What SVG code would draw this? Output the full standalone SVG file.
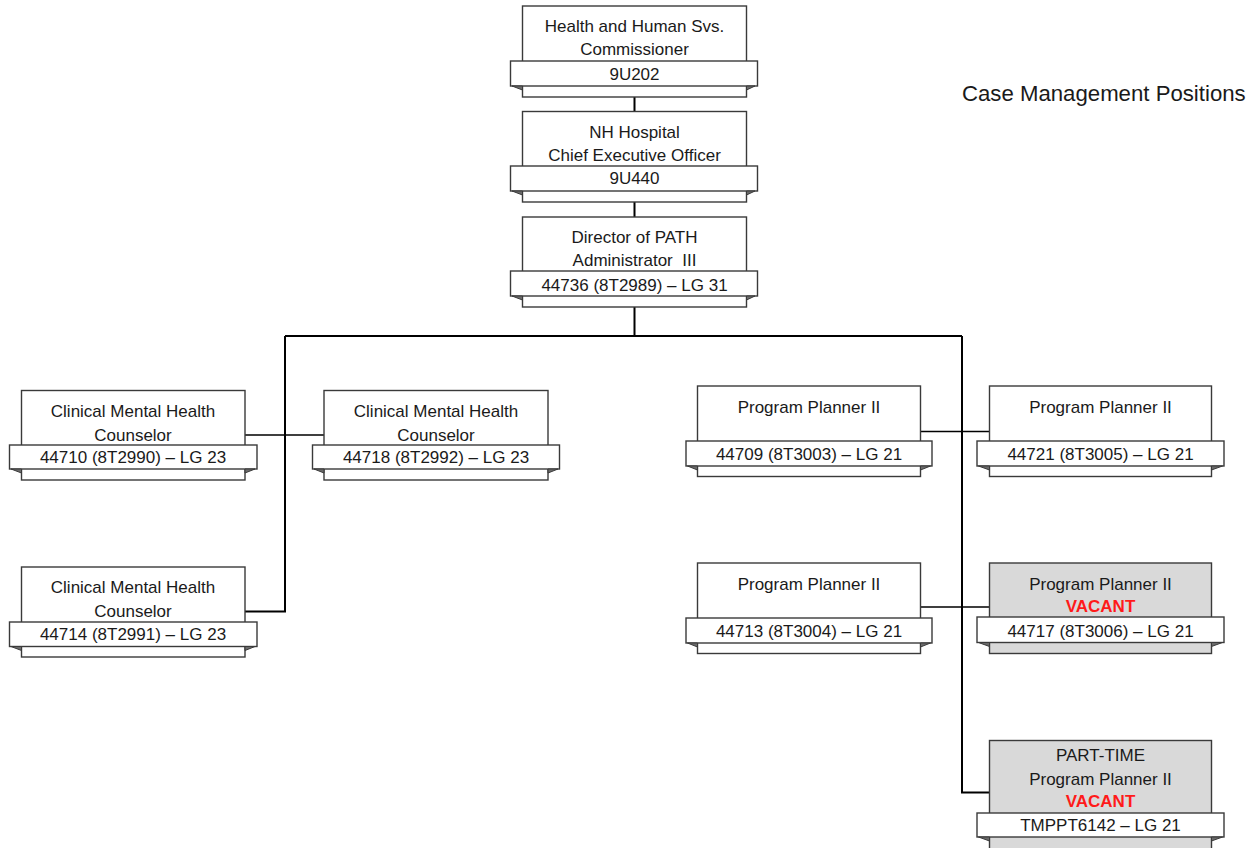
<svg xmlns="http://www.w3.org/2000/svg" width="1249" height="848" viewBox="0 0 1249 848">
<style>
.box{fill:#ffffff;stroke:#3a3a3a;stroke-width:1.4}
.gbox{fill:#d9d9d9;stroke:#3a3a3a;stroke-width:1.4}
.rib{fill:#ffffff;stroke:#3a3a3a;stroke-width:1.4}
.fold{fill:#6a6a6a;stroke:#3a3a3a;stroke-width:1}
text{font-family:"Liberation Sans",Arial,sans-serif;font-size:17px;fill:#1a1a1a;text-anchor:middle}
.vac{fill:#ff1a1a;font-weight:bold}
.title{font-size:22.2px;text-anchor:start}
.ln{fill:none;stroke:#000;stroke-width:2}
.ln2{fill:none;stroke:#000;stroke-width:1.5}
</style>
<g id="connectors">
<path class="ln" d="M634.5 97V111.5M634.5 202V217M634.5 307V336M285 336H962M285 336V611.5H245M962 336V792.5H989.5"/>
<path class="ln2" d="M245 435H324M920.5 431.5H989.5M920.5 607H989.5"/>
</g>
<g id="n-9U202">
<rect class="box" x="522.5" y="6" width="224" height="91"/>
<rect class="rib" x="510.5" y="61" width="247" height="25"/>
<polygon class="fold" points="512,86 522.5,86 522.5,90"/>
<polygon class="fold" points="755,86 746.5,86 746.5,90"/>
<text x="634.5" y="32">Health and Human Svs.</text>
<text x="634.5" y="55">Commissioner</text>
<text x="634.5" y="79.5">9U202</text>
</g>
<g id="n-9U440">
<rect class="box" x="522.5" y="111.5" width="224" height="90.5"/>
<rect class="rib" x="510.5" y="166" width="247" height="25"/>
<polygon class="fold" points="512,191 522.5,191 522.5,195"/>
<polygon class="fold" points="755,191 746.5,191 746.5,195"/>
<text x="634.5" y="138">NH Hospital</text>
<text x="634.5" y="161">Chief Executive Officer</text>
<text x="634.5" y="184">9U440</text>
</g>
<g id="n-44736">
<rect class="box" x="522.5" y="217" width="224" height="90"/>
<rect class="rib" x="510.5" y="271" width="247" height="25"/>
<polygon class="fold" points="512,296 522.5,296 522.5,300"/>
<polygon class="fold" points="755,296 746.5,296 746.5,300"/>
<text x="634.5" y="243">Director of PATH</text>
<text x="634.5" y="266" xml:space="preserve">Administrator  III</text>
<text x="634.5" y="290.5">44736 (8T2989) – LG 31</text>
</g>
<g id="n-44710">
<rect class="box" x="21.5" y="390.5" width="223.5" height="89.5"/>
<rect class="rib" x="9.5" y="445" width="247.5" height="24"/>
<polygon class="fold" points="11,469 21.5,469 21.5,473"/>
<polygon class="fold" points="255,469 245,469 245,473"/>
<text x="133" y="417">Clinical Mental Health</text>
<text x="133" y="440.5">Counselor</text>
<text x="133" y="463">44710 (8T2990) – LG 23</text>
</g>
<g id="n-44718">
<rect class="box" x="324" y="390.5" width="224" height="89.5"/>
<rect class="rib" x="312.5" y="445" width="247" height="24"/>
<polygon class="fold" points="314,469 324,469 324,473"/>
<polygon class="fold" points="558,469 548,469 548,473"/>
<text x="436" y="417">Clinical Mental Health</text>
<text x="436" y="440.5">Counselor</text>
<text x="436" y="463">44718 (8T2992) – LG 23</text>
</g>
<g id="n-44714">
<rect class="box" x="21.5" y="567" width="223.5" height="90"/>
<rect class="rib" x="9.5" y="622" width="247.5" height="24.5"/>
<polygon class="fold" points="11,646.5 21.5,646.5 21.5,650.5"/>
<polygon class="fold" points="255,646.5 245,646.5 245,650.5"/>
<text x="133" y="593">Clinical Mental Health</text>
<text x="133" y="616.5">Counselor</text>
<text x="133" y="640">44714 (8T2991) – LG 23</text>
</g>
<g id="n-44709">
<rect class="box" x="697.5" y="386" width="223" height="90.5"/>
<rect class="rib" x="686" y="441" width="246" height="25"/>
<polygon class="fold" points="687.5,466 697.5,466 697.5,470"/>
<polygon class="fold" points="930.5,466 920.5,466 920.5,470"/>
<text x="809" y="413">Program Planner II</text>
<text x="809" y="459.5">44709 (8T3003) – LG 21</text>
</g>
<g id="n-44721">
<rect class="box" x="989.5" y="386" width="222" height="90.5"/>
<rect class="rib" x="977" y="441" width="247" height="25"/>
<polygon class="fold" points="978.5,466 989.5,466 989.5,470"/>
<polygon class="fold" points="1222.5,466 1211.5,466 1211.5,470"/>
<text x="1100.5" y="413">Program Planner II</text>
<text x="1100.5" y="459.5">44721 (8T3005) – LG 21</text>
</g>
<g id="n-44713">
<rect class="box" x="697.5" y="563" width="223" height="90.5"/>
<rect class="rib" x="686" y="618" width="246" height="25"/>
<polygon class="fold" points="687.5,643 697.5,643 697.5,647"/>
<polygon class="fold" points="930.5,643 920.5,643 920.5,647"/>
<text x="809" y="590">Program Planner II</text>
<text x="809" y="636.5">44713 (8T3004) – LG 21</text>
</g>
<g id="n-44717">
<rect class="gbox" x="989.5" y="563" width="222" height="90.5"/>
<rect class="rib" x="977" y="617" width="247" height="25.5"/>
<polygon class="fold" points="978.5,642.5 989.5,642.5 989.5,646.5"/>
<polygon class="fold" points="1222.5,642.5 1211.5,642.5 1211.5,646.5"/>
<text x="1100.5" y="590">Program Planner II</text>
<text class="vac" x="1100.5" y="611.5">VACANT</text>
<text x="1100.5" y="637">44717 (8T3006) – LG 21</text>
</g>
<g id="n-TMPPT6142">
<rect class="gbox" x="989.5" y="740.5" width="222" height="120"/>
<rect class="rib" x="977" y="813" width="247" height="24"/>
<polygon class="fold" points="978.5,837 989.5,837 989.5,841"/>
<polygon class="fold" points="1222.5,837 1211.5,837 1211.5,841"/>
<text x="1100.5" y="761">PART-TIME</text>
<text x="1100.5" y="784.5">Program Planner II</text>
<text class="vac" x="1100.5" y="806.5">VACANT</text>
<text x="1100.5" y="831">TMPPT6142 – LG 21</text>
</g>
<text class="title" x="962" y="100.5">Case Management Positions</text>
</svg>
